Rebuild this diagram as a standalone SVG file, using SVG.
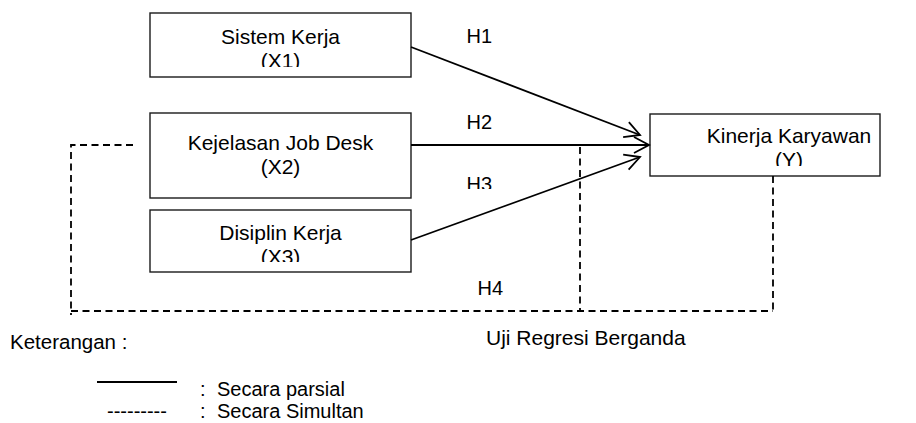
<svg xmlns="http://www.w3.org/2000/svg" width="916" height="423" viewBox="0 0 916 423">
  <style>
    text { font-family: "Liberation Sans", Arial, sans-serif; fill: #000; }
    .box { fill: #fff; stroke: #1a1a1a; stroke-width: 1.4; }
    .lbl { font-size: 21px; text-anchor: middle; }
    .hyp { font-size: 20px; }
    .solid { fill: none; stroke: #000; stroke-width: 1.8; }
    .dash { fill: none; stroke: #000; stroke-width: 1.8; stroke-dasharray: 7 4.5; }
  </style>
  <defs>
    <marker id="open-arrow" markerUnits="userSpaceOnUse" markerWidth="20" markerHeight="20" viewBox="-17 -10 19 20" refX="0" refY="0" orient="auto">
      <path d="M-15,-8 L0,0 L-15,8" fill="none" stroke="#000" stroke-width="1.8"/>
    </marker>
    <clipPath id="clip-x1"><rect x="150" y="13" width="261" height="54"/></clipPath>
    <clipPath id="clip-x3"><rect x="150" y="210" width="261" height="52"/></clipPath>
    <clipPath id="clip-y"><rect x="650" y="114" width="230" height="52"/></clipPath>
    <clipPath id="clip-h3"><rect x="450" y="160" width="60" height="29"/></clipPath>
  </defs>

  <g id="node-x1">
    <rect class="box" x="150" y="13" width="261" height="64"/>
    <g clip-path="url(#clip-x1)">
      <text class="lbl" x="280.5" y="44">Sistem Kerja</text>
      <text class="lbl" x="280.5" y="68">(X1)</text>
    </g>
  </g>

  <g id="node-x2">
    <rect class="box" x="150" y="113" width="261" height="85"/>
    <text class="lbl" x="280.5" y="150">Kejelasan Job Desk</text>
    <text class="lbl" x="280.5" y="174">(X2)</text>
  </g>

  <g id="node-x3">
    <rect class="box" x="150" y="210" width="261" height="62"/>
    <g clip-path="url(#clip-x3)">
      <text class="lbl" x="280.5" y="240">Disiplin Kerja</text>
      <text class="lbl" x="280.5" y="264">(X3)</text>
    </g>
  </g>

  <g id="node-y">
    <rect class="box" x="650" y="114" width="230" height="62"/>
    <g clip-path="url(#clip-y)">
      <text class="lbl" x="789" y="143">Kinerja Karyawan</text>
      <text class="lbl" x="789" y="167">(Y)</text>
    </g>
  </g>

  <g id="connectors">
    <!-- partial effects -->
    <line class="solid" x1="411" y1="47" x2="640" y2="135" marker-end="url(#open-arrow)"/>
    <line class="solid" x1="411" y1="145" x2="649" y2="145" marker-end="url(#open-arrow)"/>
    <line class="solid" x1="411" y1="240" x2="640" y2="157" marker-end="url(#open-arrow)"/>
    <!-- simultaneous effect -->
    <polyline class="dash" points="133,145 71,145 71,315"/>
    <line class="dash" x1="71" y1="311" x2="773" y2="311"/>
    <line class="dash" x1="580" y1="147" x2="580" y2="311"/>
    <line class="dash" x1="773" y1="176" x2="773" y2="311"/>
  </g>

  <g id="hypotheses">
    <text class="hyp" x="466.5" y="43">H1</text>
    <text class="hyp" x="466.5" y="129">H2</text>
    <g clip-path="url(#clip-h3)"><text class="hyp" x="466.5" y="191">H3</text></g>
    <text class="hyp" x="477.5" y="295">H4</text>
  </g>

  <text x="486" y="345" font-size="21">Uji Regresi Berganda</text>

  <g id="legend">
    <text x="10" y="349" font-size="20.5">Keterangan :</text>
    <line class="solid" x1="97" y1="382" x2="177" y2="382"/>
    <text x="200" y="396" font-size="20"><tspan>:</tspan><tspan x="217">Secara parsial</tspan></text>
    <text x="107" y="418" font-size="20">---------</text>
    <text x="200" y="418" font-size="20"><tspan>:</tspan><tspan x="217">Secara Simultan</tspan></text>
  </g>
</svg>
